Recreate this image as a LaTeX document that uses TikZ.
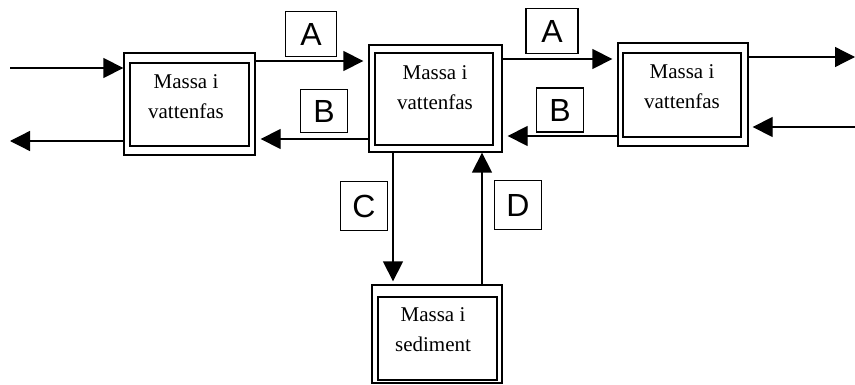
\documentclass[tikz,border=0pt]{standalone}
\usepackage{fontspec}
\setmainfont{Liberation Serif}
\newfontfamily\labelfont{Liberation Sans}
\usetikzlibrary{arrows.meta}
\tikzset{
  obox/.style={draw, line width=1.3pt, inner sep=0pt},
  ibox/.style={draw, line width=1.3pt, inner sep=0pt},
  btext/.style={align=center, font=\fontsize{21}{30}\selectfont, inner sep=0pt},
  lab/.style={draw, line width=1.2pt, font=\labelfont\fontsize{32}{32}\selectfont, inner sep=0pt, minimum width=47pt, minimum height=45pt},
  arr/.style={line width=1.3pt, -{Triangle[length=20pt,width=20pt]}},
}
\begin{document}
\begin{tikzpicture}[x=1pt,y=-1pt]
\useasboundingbox (0,0) rectangle (855,385);
% boxes
\node[obox, minimum width=131pt, minimum height=102pt] (b1) at (189.5,104) {};
\node[ibox, minimum width=119pt, minimum height=83pt] (b1i) at (189.5,104.5) {};
\node[btext] (t1) at (186,97) {Massa i\\vattenfas};

\node[obox, minimum width=133pt, minimum height=107pt] (b2) at (435.5,98.5) {};
\node[ibox, minimum width=118pt, minimum height=92pt] (b2i) at (434,99) {};
\node[btext] (t2) at (435,88) {Massa i\\vattenfas};

\node[obox, minimum width=130pt, minimum height=103pt] (b3) at (683,94.5) {};
\node[ibox, minimum width=118pt, minimum height=84pt] (b3i) at (682,95) {};
\node[btext] (t3) at (682,87) {Massa i\\vattenfas};

\node[obox, minimum width=130pt, minimum height=98pt] (b4) at (437,334) {};
\node[ibox, minimum width=119pt, minimum height=83pt] (b4i) at (437.5,338.5) {};
\node[btext] (t4) at (433,330) {Massa i\\sediment};

% free ends
\coordinate (inL) at (10,68);
\coordinate (outL) at (10,141);
\coordinate (outR) at (855,57);
\coordinate (inR) at (855,127);

% connectors
\draw[arr] (inL) -- (inL -| b1.west);
\draw[arr] (outL -| b1.west) -- (outL);
\draw[arr, shorten >=5pt] (b1.east |- 0,61) -- (b2.west |- 0,61);
\draw[arr, shorten >=5pt] (b2.west |- 0,139) -- (b1.east |- 0,139);
\draw[arr, shorten >=5pt] (b2.east |- 0,59) -- (b3.west |- 0,59);
\draw[arr, shorten >=5pt] (b3.west |- 0,136) -- (b2.east |- 0,136);
\draw[arr] (outR -| b3.east) -- (outR);
\draw[arr, shorten >=4pt] (inR) -- (inR -| b3.east);
\draw[arr, shorten >=3pt] (b2.south -| 393,0) -- (b4.north -| 393,0);
\draw[arr] (b4.north -| 482,0) -- (b2.south -| 482,0);

% labels
\node[lab, minimum width=51pt] (la1) at (311,34) {A};
\node[lab, minimum height=43pt] (lb1) at (324,111) {B};
\node[lab, minimum width=52pt] (la2) at (552,31) {A};
\node[lab, minimum height=44pt] (lb2) at (560,110) {B};
\node[lab, minimum height=49pt] (lc) at (364,206) {C};
\node[lab, minimum height=49pt] (ld) at (518,205) {D};
\end{tikzpicture}
\end{document}
